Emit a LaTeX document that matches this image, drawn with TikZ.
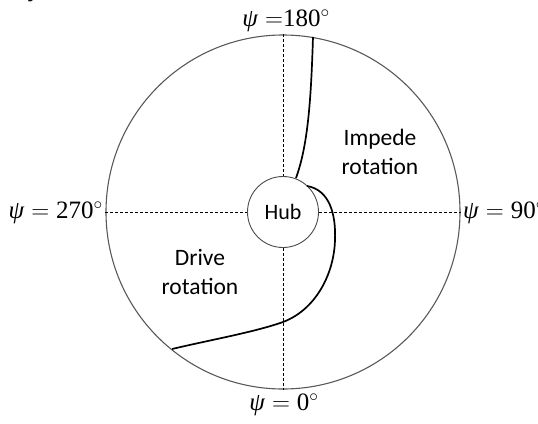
\documentclass[tikz,border=0pt]{standalone}
\usepackage{fontspec}
\setmainfont{Liberation Serif}
\newfontfamily\lblfont{Carlito}
\begin{document}
\begin{tikzpicture}[x=1pt,y=-1pt,
  rim/.style={draw=black!65,line width=1.1pt},
  hubc/.style={draw=black!70,line width=0.9pt,fill=white},
  axis/.style={draw=black,line width=0.6pt,dash pattern=on 3pt off 2pt},
  blade/.style={draw=black,line width=1.7pt},
  psilbl/.style={font=\fontsize{25}{28}\selectfont,inner sep=0pt},
  zone/.style={font=\lblfont\fontsize{23.5}{29}\selectfont,align=center,inner sep=0pt}]
\useasboundingbox (0,0) rectangle (538,423);
\coordinate (C) at (283,212);
\node[circle,rim,minimum size=354pt,inner sep=0pt] (rim) at (C) {};
\node[circle,hubc,minimum size=71pt,inner sep=0pt,font=\lblfont\fontsize{22}{26}\selectfont] (hub) at (C) {Hub};
\draw[axis] (rim.north) -- (hub.north);
\draw[axis] (hub.south) -- (rim.south);
\draw[axis] (rim.west) -- (hub.west);
\draw[axis] (hub.east) -- (rim.east);
\coordinate (b1s) at (313,37);
\coordinate (b1e) at (296,178);
\draw[blade] (b1s) .. controls (311,100) and (308,145) .. (b1e);
\coordinate (b2s) at (307,186);
\coordinate (b2a) at (335,240);
\coordinate (b2b) at (283,322);
\coordinate (b2e) at (172,349);
\draw[blade] (b2s) .. controls (330,190) and (336,215) .. (b2a)
  .. controls (334,275) and (315,310) .. (b2b)
  .. controls (255,332) and (210,340) .. (b2e);
\node[psilbl,anchor=south] (top) at (286,32) {\textit{ψ}$\;=$180$^\circ$};
\node[psilbl,anchor=north] (bot) at (284,394) {\textit{ψ}$\;=\;$0$^\circ$};
\node[psilbl,anchor=east] (lft) at (103,213) {\textit{ψ}$\;=\;$270$^\circ$};
\node[psilbl,anchor=west] (rgt) at (463,213) {\textit{ψ}$\;=\;$90$^\circ$};
\node[zone] (imp) at (380,152) {Impede\\rotation};
\node[zone] (drv) at (200,272) {Drive\\rotation};
\node[psilbl,anchor=base] (frag) at (36,-4) {\textit{y}};
\end{tikzpicture}
\end{document}
